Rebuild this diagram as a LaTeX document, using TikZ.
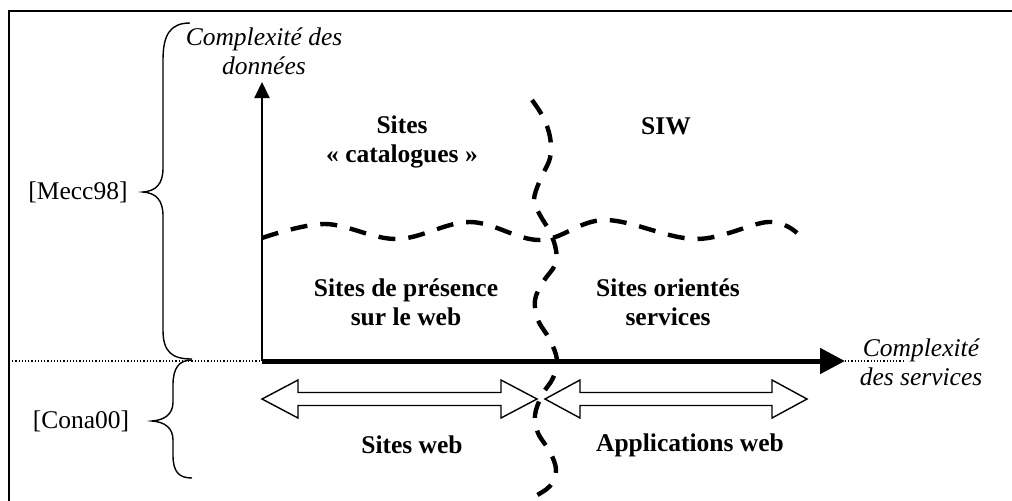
\documentclass[tikz,border=0pt]{standalone}
\usepackage{fontspec}
\setmainfont{Liberation Serif}
\usetikzlibrary{arrows.meta}

\begin{document}
\begin{tikzpicture}[x=0.5pt, y=-0.5pt,
        every node/.style={font=\fontsize{12.75}{14.7}\selectfont, inner sep=0pt},
        axislabel/.style={font=\fontsize{12.75}{14.7}\selectfont\itshape, align=center},
        zone/.style={font=\fontsize{12.75}{14.7}\selectfont\bfseries, align=center},
        border/.style={dash pattern=on 8.5pt off 6.5pt, line width=2.2pt},
        bigarrow/.style={draw, line width=0.7pt, fill=white, line join=miter},
        brace/.style={line width=0.7pt}]

    % Frame (runs past the page on the right and at the bottom)
    \clip (0,0) rectangle (1012,500);
    \draw[line width=1pt] (9,11) rectangle (1030,520);

    % Text nodes
    \node[axislabel] (ydata) at (264,51) {Complexité des\\données};
    \node[axislabel] (xserv) at (921,362) {Complexité\\des services};
    \node (mecc) at (78,192) {[Mecc98]};
    \node (cona) at (81,421) {[Cona00]};
    \node[zone] (catal) at (402,142) {Sites\\« catalogues »};
    \node[zone] (siw) at (666,126) {SIW};
    \node[zone] (presence) at (406,302) {Sites de présence\\sur le web};
    \node[zone] (oriente) at (668,302) {Sites orientés\\services};
    \node[zone] (sitesweb) at (412,445) {Sites web};
    \node[zone] (appweb) at (690,445) {Applications web};

    % Axes
    \coordinate (origin) at (262,361);
    \coordinate (ytip) at (262,82);
    \coordinate (xtip) at (845,361);
    \draw[line width=1pt, -{Triangle[length=8pt, width=7.5pt]}] (origin) -- (ytip);
    \draw[line width=2.5pt, -{Triangle[length=12.5pt, width=12.5pt]}] (origin) -- (xtip);
    \draw[densely dotted, line width=0.6pt] (9,361) -- (origin);
    \draw[densely dotted, line width=0.6pt] (xtip) -- (905,361);

    % Braces
    \draw[brace] (190,23) .. controls (170,23) and (163,35) .. (163,60) -- (163,168)
        .. controls (163,184) and (156,191) .. (143,192)
        .. controls (156,193) and (163,200) .. (163,216) -- (163,330)
        .. controls (163,352) and (172,359) .. (192,359);
    \draw[brace] (192,360) .. controls (179,360) and (173,368) .. (173,385) -- (173,402)
        .. controls (173,414) and (165,420) .. (152,421)
        .. controls (165,422) and (173,428) .. (173,440) -- (173,455)
        .. controls (173,472) and (179,478) .. (192,478);

    % Double arrows
    \draw[bigarrow] (262,399) -- (298,380) -- (298,392.5) -- (501,392.5) -- (501,380)
        -- (537,399) -- (501,418) -- (501,405.5) -- (298,405.5) -- (298,418) -- cycle;
    \draw[bigarrow] (545,399) -- (580,380) -- (580,392.5) -- (772,392.5) -- (772,380)
        -- (807,399) -- (772,418) -- (772,405.5) -- (580,405.5) -- (580,418) -- cycle;

    % Dashed borders between the zones
    \draw[border] plot[smooth, tension=0.6] coordinates {(262,238) (325,224) (397,239)
        (470,222) (540,240) (605,220) (695,239) (768,222) (797,233)};
    \draw[border] plot[smooth, tension=0.6] coordinates {(532,100) (543,117) (550,137)
        (550,158) (540,180) (534,200) (540,215) (550,232) (556,250) (555,265) (543,282)
        (535,300) (538,320) (550,340) (557,360) (553,378) (542,395) (535,415) (538,433)
        (550,452) (556,470) (550,486) (533,498) (520,510)};

\end{tikzpicture}
\end{document}
